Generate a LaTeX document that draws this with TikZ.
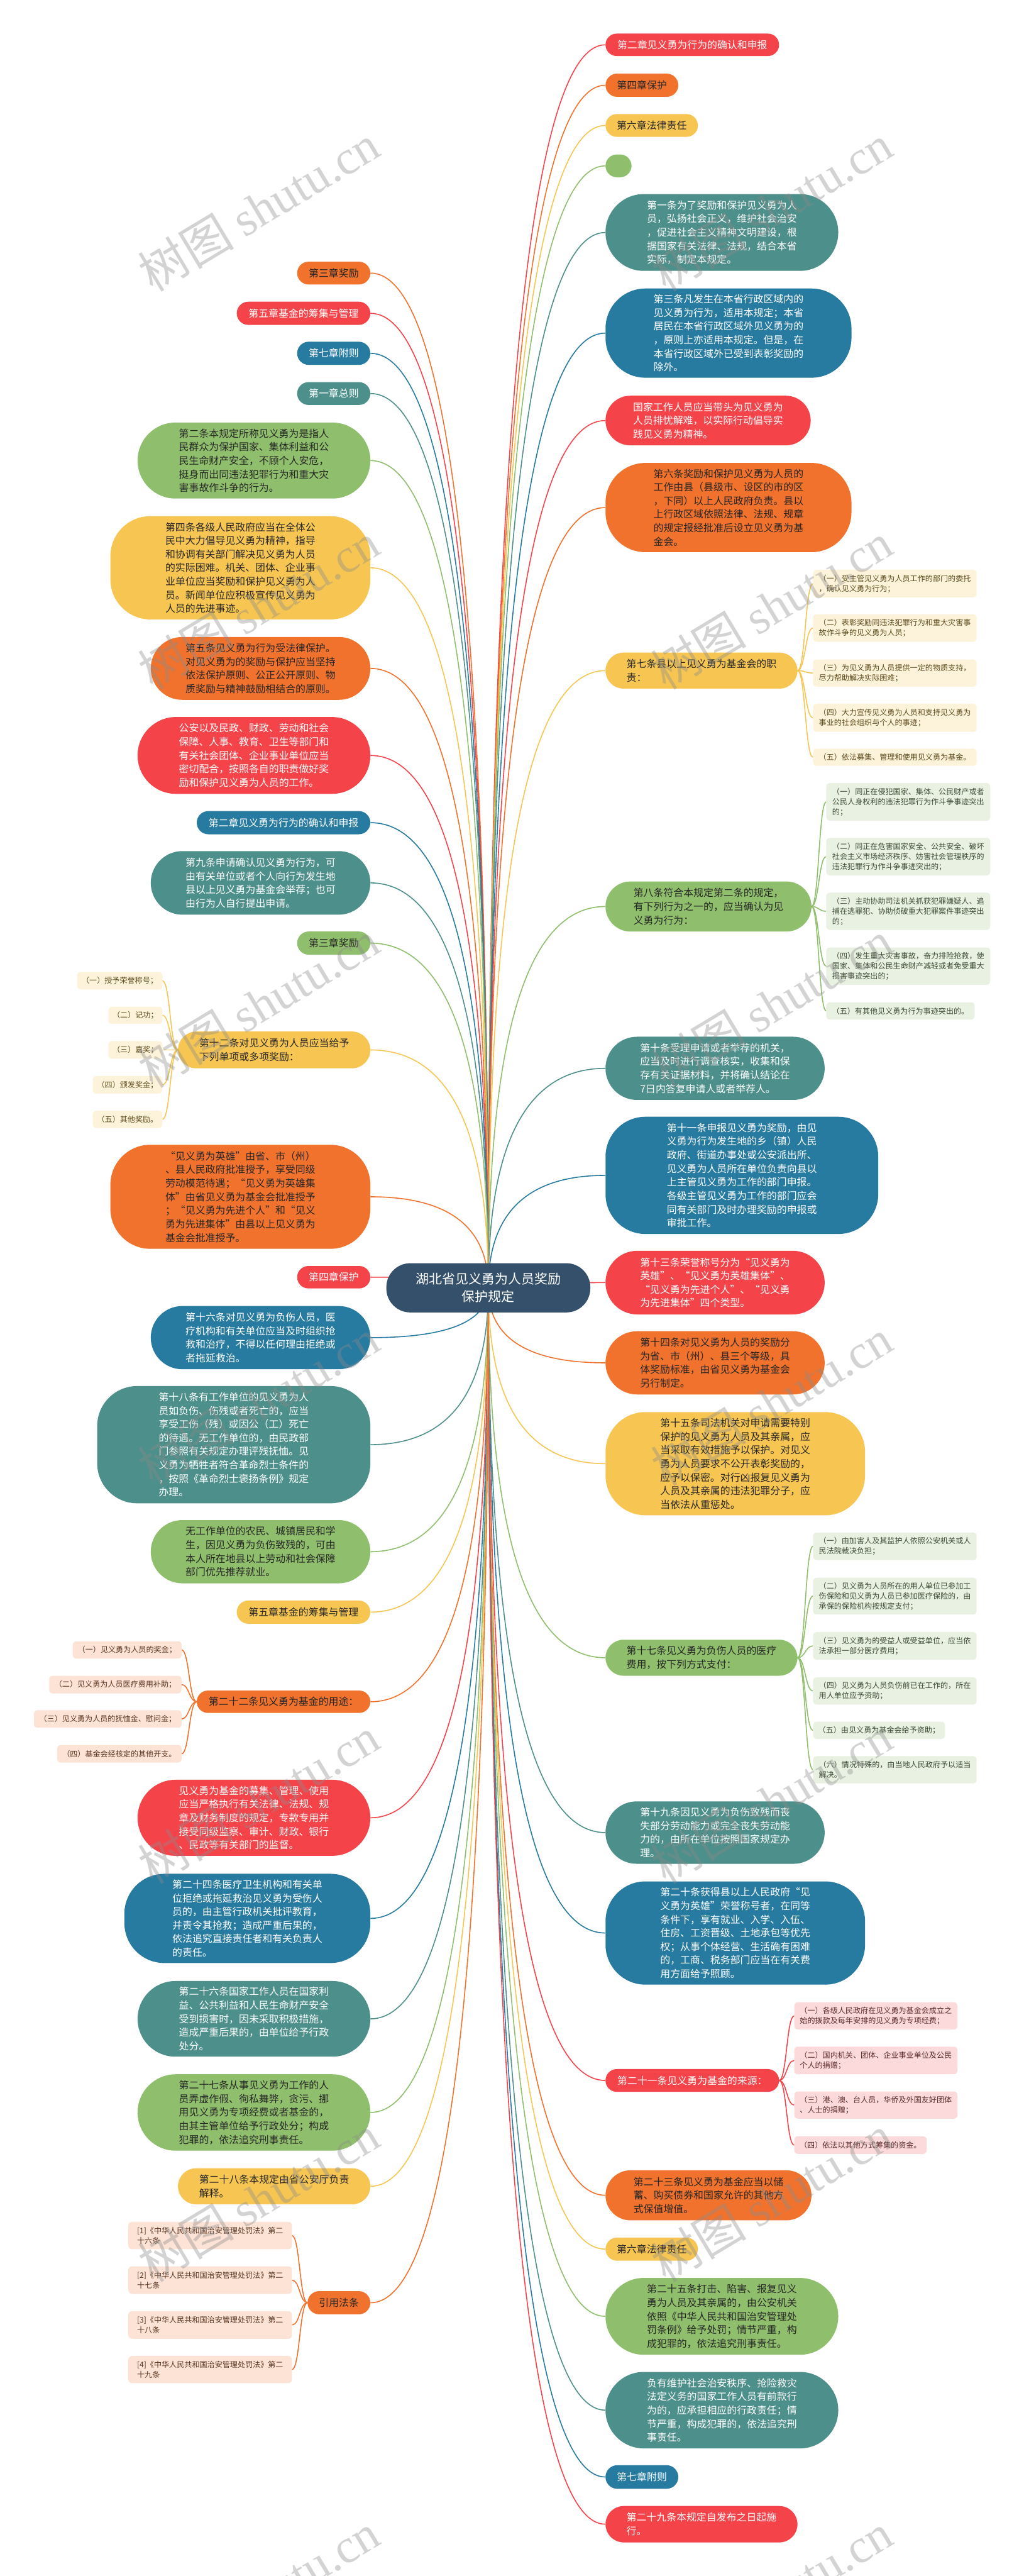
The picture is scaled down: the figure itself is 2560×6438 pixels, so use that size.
\documentclass[tikz,border=0pt]{standalone}
\usepackage{fontspec}
\setmainfont{Noto Sans CJK SC}
\newfontfamily\wmserif{Liberation Serif}
\usetikzlibrary{calc,backgrounds}
\definecolor{cred}{HTML}{F5434A}
\definecolor{corange}{HTML}{F0722D}
\definecolor{cyellow}{HTML}{F7C652}
\definecolor{cgreen}{HTML}{8FBE6C}
\definecolor{cteal}{HTML}{4D8F8A}
\definecolor{cblue}{HTML}{277AA0}
\definecolor{cnavy}{HTML}{35506B}
\definecolor{lyellow}{HTML}{FDF3DB}
\definecolor{lgreen}{HTML}{E9F2E2}
\definecolor{lpink}{HTML}{FCDADB}
\definecolor{lpeach}{HTML}{FCE3D6}
\definecolor{dtext}{HTML}{262626}
\definecolor{tyellow}{HTML}{5B4A1A}
\definecolor{tgreen}{HTML}{3C4A33}
\definecolor{tpink}{HTML}{5A2A2A}
\definecolor{tpeach}{HTML}{5B3520}
\newcommand\mmnode[7]{%
 \pgfmathsetmacro\mmw{#5-#3}%
 \pgfmathsetmacro\mmh{#6-#4}%
 \pgfmathsetmacro\mmcx{(#3+#5)/2}%
 \pgfmathsetmacro\mmcy{(#4+#6)/2}%
 \pgfmathsetmacro\mmr{min(\mmh/2,100)}%
 \node[rounded corners=\mmr pt, minimum width=\mmw pt, minimum height=\mmh pt, #2] (#1) at (\mmcx,\mmcy) {#7};%
}
\newcommand\rootconn[3]{%
 \path (root.center) coordinate (S) (#2.#3) coordinate (E);
 \path (S|-E) coordinate (C);
 \draw[#1, line width=2.5pt] (S) .. controls ($(S)!0.6667!(C)$) and ($(E)!0.6667!(C)$) .. (E);
}
\newcommand\subconn[3]{%
 \path (#2) coordinate (P) (#3) coordinate (Q);
 \path ($(P)!0.5!(Q)$) coordinate (M);
 \draw[#1, line width=2.5pt] (P) .. controls (M|-P) and (M|-Q) .. (Q);
}
\begin{document}
\begin{tikzpicture}[x=1pt,y=-1pt,
 l1/.style={font=\fontsize{25}{34}\selectfont, align=left, inner sep=0pt},
 ch/.style={font=\fontsize{19}{25}\selectfont, align=left, inner sep=0pt, rounded corners=9pt},
 nred/.style={l1,fill=cred,text=white},
 norange/.style={l1,fill=corange,text=dtext},
 nyellow/.style={l1,fill=cyellow,text=dtext},
 ngreen/.style={l1,fill=cgreen,text=dtext},
 nteal/.style={l1,fill=cteal,text=white},
 nblue/.style={l1,fill=cblue,text=white},
 cyel/.style={ch,fill=lyellow,text=tyellow},
 cgrn/.style={ch,fill=lgreen,text=tgreen},
 cpnk/.style={ch,fill=lpink,text=tpink},
 cpch/.style={ch,fill=lpeach,text=tpeach},
 wm/.style={rotate=31, text=black!45, text opacity=0.38, inner sep=0pt}
]
\useasboundingbox (0,0) rectangle (2560,6438);

% root
\node[fill=cnavy, text=white, rounded corners=60pt, minimum width=510pt, minimum height=123pt, align=center, inner sep=0pt, font=\fontsize{33}{44}\selectfont] (root) at (1221,3218.5) {湖北省见义勇为人员奖励\\保护规定};

% right side
\mmnode{R1}{nred}{1514}{84}{1948}{140}{第二章见义勇为行为的确认和申报}
\mmnode{R2}{norange}{1514}{184}{1696}{242}{第四章保护}
\mmnode{R3}{nyellow}{1514}{285}{1745}{342}{第六章法律责任}
\mmnode{R4}{ngreen}{1514}{386}{1579}{443}{}
\mmnode{R5}{nteal}{1514}{485}{2096}{677}{第一条为了奖励和保护见义勇为人\\员，弘扬社会正义，维护社会治安\\，促进社会主义精神文明建设，根\\据国家有关法律、法规，结合本省\\实际，制定本规定。}
\mmnode{R6}{nblue}{1514}{721}{2129}{944}{第三条凡发生在本省行政区域内的\\见义勇为行为，适用本规定；本省\\居民在本省行政区域外见义勇为的\\，原则上亦适用本规定。但是，在\\本省行政区域外已受到表彰奖励的\\除外。}
\mmnode{R7}{nred}{1514}{989}{2027}{1113}{国家工作人员应当带头为见义勇为\\人员排忧解难，以实际行动倡导实\\践见义勇为精神。}
\mmnode{R8}{norange}{1514}{1157}{2129}{1380}{第六条奖励和保护见义勇为人员的\\工作由县（县级市、设区的市的区\\，下同）以上人民政府负责。县以\\上行政区域依照法律、法规、规章\\的规定报经批准后设立见义勇为基\\金会。}
\mmnode{R9}{nyellow}{1514}{1631}{1994}{1721}{第七条县以上见义勇为基金会的职\\责：}
\mmnode{R9a}{cyel}{2033}{1424}{2442}{1493}{（一）受主管见义勇为人员工作的部门的委托\\，确认见义勇为行为；}
\mmnode{R9b}{cyel}{2033}{1535}{2442}{1604}{（二）表彰奖励同违法犯罪行为和重大灾害事\\故作斗争的见义勇为人员；}
\mmnode{R9c}{cyel}{2033}{1648}{2442}{1716}{（三）为见义勇为人员提供一定的物质支持，\\尽力帮助解决实际困难；}
\mmnode{R9d}{cyel}{2033}{1759}{2442}{1829}{（四）大力宣传见义勇为人员和支持见义勇为\\事业的社会组织与个人的事迹；}
\mmnode{R9e}{cyel}{2033}{1871}{2442}{1914}{（五）依法募集、管理和使用见义勇为基金。}
\mmnode{R10}{ngreen}{1514}{2203}{2029}{2328}{第八条符合本规定第二条的规定，\\有下列行为之一的，应当确认为见\\义勇为行为：}
\mmnode{R10a}{cgrn}{2066}{1957}{2476}{2051}{（一）同正在侵犯国家、集体、公民财产或者\\公民人身权利的违法犯罪行为作斗争事迹突出\\的；}
\mmnode{R10b}{cgrn}{2066}{2094}{2476}{2188}{（二）同正在危害国家安全、公共安全、破坏\\社会主义市场经济秩序、妨害社会管理秩序的\\违法犯罪行为作斗争事迹突出的；}
\mmnode{R10c}{cgrn}{2066}{2231}{2476}{2324}{（三）主动协助司法机关抓获犯罪嫌疑人、追\\捕在逃罪犯、协助侦破重大犯罪案件事迹突出\\的；}
\mmnode{R10d}{cgrn}{2066}{2368}{2476}{2461}{（四）发生重大灾害事故，奋力排险抢救，使\\国家、集体和公民生命财产减轻或者免受重大\\损害事迹突出的；}
\mmnode{R10e}{cgrn}{2066}{2505}{2437}{2548}{（五）有其他见义勇为行为事迹突出的。}
\mmnode{R11}{nteal}{1514}{2591}{2062}{2749}{第十条受理申请或者举荐的机关，\\应当及时进行调查核实，收集和保\\存有关证据材料，并将确认结论在\\7日内答复申请人或者举荐人。}
\mmnode{R12}{nblue}{1514}{2791}{2196}{3084}{第十一条申报见义勇为奖励，由见\\义勇为行为发生地的乡（镇）人民\\政府、街道办事处或公安派出所、\\见义勇为人员所在单位负责向县以\\上主管见义勇为工作的部门申报。\\各级主管见义勇为工作的部门应会\\同有关部门及时办理奖励的申报或\\审批工作。}
\mmnode{R13}{nred}{1514}{3126}{2062}{3285}{第十三条荣誉称号分为“见义勇为\\英雄”、“见义勇为英雄集体”、\\“见义勇为先进个人”、“见义勇\\为先进集体”四个类型。}
\mmnode{R14}{norange}{1514}{3327}{2062}{3485}{第十四条对见义勇为人员的奖励分\\为省、市（州）、县三个等级，具\\体奖励标准，由省见义勇为基金会\\另行制定。}
\mmnode{R15}{nyellow}{1514}{3529}{2163}{3787}{第十五条司法机关对申请需要特别\\保护的见义勇为人员及其亲属，应\\当采取有效措施予以保护。对见义\\勇为人员要求不公开表彰奖励的，\\应予以保密。对行凶报复见义勇为\\人员及其亲属的违法犯罪分子，应\\当依法从重惩处。}
\mmnode{R16}{ngreen}{1514}{4098}{1994}{4188}{第十七条见义勇为负伤人员的医疗\\费用，按下列方式支付：}
\mmnode{R16a}{cgrn}{2033}{3830}{2442}{3899}{（一）由加害人及其监护人依照公安机关或人\\民法院裁决负担；}
\mmnode{R16b}{cgrn}{2033}{3943}{2442}{4035}{（二）见义勇为人员所在的用人单位已参加工\\伤保险和见义勇为人员已参加医疗保险的，由\\承保的保险机构按规定支付；}
\mmnode{R16c}{cgrn}{2033}{4079}{2442}{4148}{（三）见义勇为的受益人或受益单位，应当依\\法承担一部分医疗费用；}
\mmnode{R16d}{cgrn}{2033}{4192}{2442}{4260}{（四）见义勇为人员负伤前已在工作的，所在\\用人单位应予资助；}
\mmnode{R16e}{cgrn}{2033}{4303}{2363}{4346}{（五）由见义勇为基金会给予资助；}
\mmnode{R16f}{cgrn}{2033}{4389}{2442}{4457}{（六）情况特殊的，由当地人民政府予以适当\\解决。}
\mmnode{R17}{nteal}{1514}{4502}{2062}{4658}{第十九条因见义勇为负伤致残而丧\\失部分劳动能力或完全丧失劳动能\\力的，由所在单位按照国家规定办\\理。}
\mmnode{R18}{nblue}{1514}{4702}{2163}{4960}{第二十条获得县以上人民政府“见\\义勇为英雄”荣誉称号者，在同等\\条件下，享有就业、入学、入伍、\\住房、工资晋级、土地承包等优先\\权；从事个体经营、生活确有困难\\的，工商、税务部门应当在有关费\\用方面给予照顾。}
\mmnode{R19}{nred}{1514}{5171}{1948}{5228}{第二十一条见义勇为基金的来源：}
\mmnode{R19a}{cpnk}{1986}{5004}{2394}{5072}{（一）各级人民政府在见义勇为基金会成立之\\始的拨款及每年安排的见义勇为专项经费；}
\mmnode{R19b}{cpnk}{1986}{5115}{2394}{5184}{（二）国内机关、团体、企业事业单位及公民\\个人的捐赠；}
\mmnode{R19c}{cpnk}{1986}{5227}{2394}{5295}{（三）港、澳、台人员，华侨及外国友好团体\\、人士的捐赠；}
\mmnode{R19d}{cpnk}{1986}{5339}{2317}{5383}{（四）依法以其他方式筹集的资金。}
\mmnode{R20}{norange}{1514}{5424}{2029}{5549}{第二十三条见义勇为基金应当以储\\蓄、购买债券和国家允许的其他方\\式保值增值。}
\mmnode{R21}{nyellow}{1514}{5592}{1745}{5650}{第六章法律责任}
\mmnode{R22}{ngreen}{1514}{5693}{2096}{5885}{第二十五条打击、陷害、报复见义\\勇为人员及其亲属的，由公安机关\\依照《中华人民共和国治安管理处\\罚条例》给予处罚；情节严重，构\\成犯罪的，依法追究刑事责任。}
\mmnode{R23}{nteal}{1514}{5928}{2096}{6119}{负有维护社会治安秩序、抢险救灾\\法定义务的国家工作人员有前款行\\为的，应承担相应的行政责任；情\\节严重，构成犯罪的，依法追究刑\\事责任。}
\mmnode{R24}{nblue}{1514}{6161}{1696}{6220}{第七章附则}
\mmnode{R25}{nred}{1514}{6263}{1994}{6354}{第二十九条本规定自发布之日起施\\行。}

% left side
\mmnode{L1}{norange}{743}{654}{926}{711}{第三章奖励}
\mmnode{L2}{nred}{592}{754}{926}{812}{第五章基金的筹集与管理}
\mmnode{L3}{nblue}{743}{854}{926}{912}{第七章附则}
\mmnode{L4}{nteal}{743}{955}{926}{1012}{第一章总则}
\mmnode{L5}{ngreen}{344}{1056}{926}{1246}{第二条本规定所称见义勇为是指人\\民群众为保护国家、集体利益和公\\民生命财产安全，不顾个人安危，\\挺身而出同违法犯罪行为和重大灾\\害事故作斗争的行为。}
\mmnode{L6}{nyellow}{276}{1290}{926}{1548}{第四条各级人民政府应当在全体公\\民中大力倡导见义勇为精神，指导\\和协调有关部门解决见义勇为人员\\的实际困难。机关、团体、企业事\\业单位应当奖励和保护见义勇为人\\员。新闻单位应积极宣传见义勇为\\人员的先进事迹。}
\mmnode{L7}{norange}{377}{1592}{926}{1749}{第五条见义勇为行为受法律保护。\\对见义勇为的奖励与保护应当坚持\\依法保护原则、公正公开原则、物\\质奖励与精神鼓励相结合的原则。}
\mmnode{L8}{nred}{344}{1792}{926}{1984}{公安以及民政、财政、劳动和社会\\保障、人事、教育、卫生等部门和\\有关社会团体、企业事业单位应当\\密切配合，按照各自的职责做好奖\\励和保护见义勇为人员的工作。}
\mmnode{L9}{nblue}{492}{2027}{926}{2085}{第二章见义勇为行为的确认和申报}
\mmnode{L10}{nteal}{377}{2127}{926}{2286}{第九条申请确认见义勇为行为，可\\由有关单位或者个人向行为发生地\\县以上见义勇为基金会举荐；也可\\由行为人自行提出申请。}
\mmnode{L11}{ngreen}{743}{2328}{926}{2386}{第三章奖励}
\mmnode{L12}{nyellow}{445}{2578}{926}{2670}{第十二条对见义勇为人员应当给予\\下列单项或多项奖励：}
\mmnode{L12a}{cyel}{193}{2429}{406}{2473}{（一）授予荣誉称号；}
\mmnode{L12b}{cyel}{271}{2516}{406}{2559}{（二）记功；}
\mmnode{L12c}{cyel}{271}{2602}{406}{2646}{（三）嘉奖；}
\mmnode{L12d}{cyel}{232}{2689}{406}{2733}{（四）颁发奖金；}
\mmnode{L12e}{cyel}{232}{2776}{406}{2819}{（五）其他奖励。}
\mmnode{L13}{norange}{276}{2861}{926}{3121}{“见义勇为英雄”由省、市（州）\\、县人民政府批准授予，享受同级\\劳动模范待遇；“见义勇为英雄集\\体”由省见义勇为基金会批准授予\\；“见义勇为先进个人”和“见义\\勇为先进集体”由县以上见义勇为\\基金会批准授予。}
\mmnode{L14}{nred}{743}{3164}{926}{3220}{第四章保护}
\mmnode{L15}{nblue}{377}{3264}{926}{3422}{第十六条对见义勇为负伤人员，医\\疗机构和有关单位应当及时组织抢\\救和治疗，不得以任何理由拒绝或\\者拖延救治。}
\mmnode{L16}{nteal}{243}{3464}{926}{3757}{第十八条有工作单位的见义勇为人\\员如负伤、伤残或者死亡的，应当\\享受工伤（残）或因公（工）死亡\\的待遇。无工作单位的，由民政部\\门参照有关规定办理评残抚恤。见\\义勇为牺牲者符合革命烈士条件的\\，按照《革命烈士褒扬条例》规定\\办理。}
\mmnode{L17}{ngreen}{377}{3799}{926}{3957}{无工作单位的农民、城镇居民和学\\生，因见义勇为负伤致残的，可由\\本人所在地县以上劳动和社会保障\\部门优先推荐就业。}
\mmnode{L18}{nyellow}{592}{4000}{926}{4058}{第五章基金的筹集与管理}
\mmnode{L19}{norange}{492}{4225}{926}{4281}{第二十二条见义勇为基金的用途：}
\mmnode{L19a}{cpch}{182}{4102}{454}{4145}{（一）见义勇为人员的奖金；}
\mmnode{L19b}{cpch}{123}{4188}{454}{4232}{（二）见义勇为人员医疗费用补助；}
\mmnode{L19c}{cpch}{85}{4274}{454}{4318}{（三）见义勇为人员的抚恤金、慰问金；}
\mmnode{L19d}{cpch}{143}{4361}{454}{4405}{（四）基金会经核定的其他开支。}
\mmnode{L20}{nred}{344}{4448}{926}{4638}{见义勇为基金的募集、管理、使用\\应当严格执行有关法律、法规、规\\章及财务制度的规定，专款专用并\\接受同级监察、审计、财政、银行\\、民政等有关部门的监督。}
\mmnode{L21}{nblue}{311}{4683}{926}{4906}{第二十四条医疗卫生机构和有关单\\位拒绝或拖延救治见义勇为受伤人\\员的，由主管行政机关批评教育，\\并责令其抢救；造成严重后果的，\\依法追究直接责任者和有关负责人\\的责任。}
\mmnode{L22}{nteal}{344}{4951}{926}{5140}{第二十六条国家工作人员在国家利\\益、公共利益和人民生命财产安全\\受到损害时，因未采取积极措施，\\造成严重后果的，由单位给予行政\\处分。}
\mmnode{L23}{ngreen}{344}{5184}{926}{5375}{第二十七条从事见义勇为工作的人\\员弄虚作假、徇私舞弊，贪污、挪\\用见义勇为专项经费或者基金的，\\由其主管单位给予行政处分；构成\\犯罪的，依法追究刑事责任。}
\mmnode{L24}{nyellow}{445}{5419}{926}{5509}{第二十八条本规定由省公安厅负责\\解释。}
\mmnode{L25}{norange}{769}{5726}{926}{5784}{引用法条}
\mmnode{L25a}{cpch}{321}{5553}{730}{5621}{[1]《中华人民共和国治安管理处罚法》第二\\十六条}
\mmnode{L25b}{cpch}{321}{5664}{730}{5733}{[2]《中华人民共和国治安管理处罚法》第二\\十七条}
\mmnode{L25c}{cpch}{321}{5776}{730}{5845}{[3]《中华人民共和国治安管理处罚法》第二\\十八条}
\mmnode{L25d}{cpch}{321}{5888}{730}{5956}{[4]《中华人民共和国治安管理处罚法》第二\\十九条}

\begin{scope}[on background layer]
\fill[white] (0,0) rectangle (2560,6438);
\rootconn{cred}{R1}{west}
\rootconn{corange}{R2}{west}
\rootconn{cyellow}{R3}{west}
\rootconn{cgreen}{R4}{west}
\rootconn{cteal}{R5}{west}
\rootconn{cblue}{R6}{west}
\rootconn{cred}{R7}{west}
\rootconn{corange}{R8}{west}
\rootconn{cyellow}{R9}{west}
\rootconn{cgreen}{R10}{west}
\rootconn{cteal}{R11}{west}
\rootconn{cblue}{R12}{west}
\rootconn{cred}{R13}{west}
\rootconn{corange}{R14}{west}
\rootconn{cyellow}{R15}{west}
\rootconn{cgreen}{R16}{west}
\rootconn{cteal}{R17}{west}
\rootconn{cblue}{R18}{west}
\rootconn{cred}{R19}{west}
\rootconn{corange}{R20}{west}
\rootconn{cyellow}{R21}{west}
\rootconn{cgreen}{R22}{west}
\rootconn{cteal}{R23}{west}
\rootconn{cblue}{R24}{west}
\rootconn{cred}{R25}{west}
\rootconn{corange}{L1}{east}
\rootconn{cred}{L2}{east}
\rootconn{cblue}{L3}{east}
\rootconn{cteal}{L4}{east}
\rootconn{cgreen}{L5}{east}
\rootconn{cyellow}{L6}{east}
\rootconn{corange}{L7}{east}
\rootconn{cred}{L8}{east}
\rootconn{cblue}{L9}{east}
\rootconn{cteal}{L10}{east}
\rootconn{cgreen}{L11}{east}
\rootconn{cyellow}{L12}{east}
\rootconn{corange}{L13}{east}
\rootconn{cred}{L14}{east}
\rootconn{cblue}{L15}{east}
\rootconn{cteal}{L16}{east}
\rootconn{cgreen}{L17}{east}
\rootconn{cyellow}{L18}{east}
\rootconn{corange}{L19}{east}
\rootconn{cred}{L20}{east}
\rootconn{cblue}{L21}{east}
\rootconn{cteal}{L22}{east}
\rootconn{cgreen}{L23}{east}
\rootconn{cyellow}{L24}{east}
\rootconn{corange}{L25}{east}
\foreach \c in {a,b,c,d,e} {\subconn{cyellow}{R9.east}{R9\c.west}}
\foreach \c in {a,b,c,d,e} {\subconn{cgreen}{R10.east}{R10\c.west}}
\foreach \c in {a,b,c,d,e,f} {\subconn{cgreen}{R16.east}{R16\c.west}}
\foreach \c in {a,b,c,d} {\subconn{cred}{R19.east}{R19\c.west}}
\foreach \c in {a,b,c,d,e} {\subconn{cyellow}{L12.west}{L12\c.east}}
\foreach \c in {a,b,c,d} {\subconn{corange}{L19.west}{L19\c.east}}
\foreach \c in {a,b,c,d} {\subconn{corange}{L25.west}{L25\c.east}}
\end{scope}

% watermark
\foreach \wy [count=\i] in {520,1515,2510,3505,4500,5495,6490} {
 \node[wm] (wl\i) at (647,\wy) {\fontsize{120}{120}\selectfont 树图 {\wmserif shutu.cn}};
 \node[wm] (wr\i) at (1929,\wy) {\fontsize{120}{120}\selectfont 树图 {\wmserif shutu.cn}};
}
\end{tikzpicture}
\end{document}
